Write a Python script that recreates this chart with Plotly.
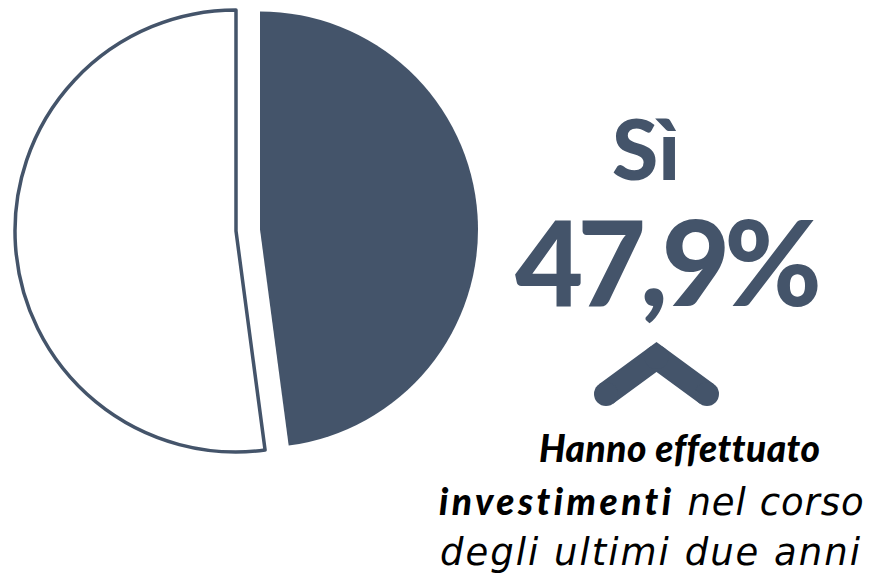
import plotly.graph_objects as go

# Survey answer shares (percent)
labels = ["Sì", "No"]
values = [47.9, 52.1]

headline = "Sì"
pct_label = "47,9%"
# caption lines as (bold part, regular part)
caption_lines = [
    ("Hanno effettuato", ""),
    ("investimenti", " nel corso"),
    ("", "degli ultimi due anni"),
]

W, H = 879, 577
DARK = "#44546A"
CLEAR = "rgba(0,0,0,0)"
BIG_FONT = "Century Gothic, Lato, sans-serif"


def domain(cx, cy, r):
    """Pie domain (paper fractions) for a circle given in pixels."""
    return dict(x=[(cx - r) / W, (cx + r) / W], y=[1 - (cy + r) / H, 1 - (cy - r) / H])


pie_common = dict(
    labels=labels,
    values=values,
    sort=False,
    direction="clockwise",
    rotation=0,
    textinfo="none",
    hoverinfo="skip",
    showlegend=False,
)

fig = go.Figure()

# "No" share: white slice with dark outline
fig.add_trace(go.Pie(
    **pie_common,
    domain=domain(236, 231, 221),
    marker=dict(colors=[CLEAR, "white"], line=dict(color=[CLEAR, DARK], width=3.5)),
))

# "Sì" share: solid slice, exploded to the right
fig.add_trace(go.Pie(
    **pie_common,
    domain=domain(260, 229.5, 218),
    marker=dict(colors=[DARK, CLEAR], line=dict(color=[CLEAR, CLEAR], width=0)),
))

# Up chevron icon (pixel-space axes)
chev_x = [606, 656.5, 707]
chev_y = [394, 357, 394]
fig.add_trace(go.Scatter(
    x=chev_x, y=chev_y, mode="lines+markers",
    line=dict(color=DARK, width=24),
    marker=dict(color=DARK, size=24),
    hoverinfo="skip", showlegend=False,
))

annotations = [
    dict(x=646, y=147, text=headline,
         font=dict(family=BIG_FONT, size=84, color=DARK, weight=900)),
    dict(x=666, y=260, text=f'<span style="letter-spacing:-6px">{pct_label}</span>',
         font=dict(family=BIG_FONT, size=118, color=DARK, weight=900)),
]


def caption_html(bold, regular, bold_spacing, reg_spacing):
    parts = []
    if bold:
        parts.append(f'<span style="font-family:Lato;font-weight:900;'
                     f'letter-spacing:{bold_spacing}px">{bold}</span>')
    if regular:
        parts.append(f'<span style="font-family:DejaVu Sans;font-weight:normal;'
                     f'letter-spacing:{reg_spacing}px">{regular}</span>')
    return "<i>" + "".join(parts) + "</i>"


caption_pos = [(679, 447), (652, 501), (651, 552)]
caption_spacing = [(0.5, 0), (3.5, 1), (0, 2)]
for (cx, cy), (bold, regular), (bs, rs) in zip(caption_pos, caption_lines, caption_spacing):
    annotations.append(dict(x=cx, y=cy, text=caption_html(bold, regular, bs, rs),
                            font=dict(family="Lato", size=37, color="black")))

for a in annotations:
    a.update(xref="x", yref="y", xanchor="center", yanchor="middle", showarrow=False)

fig.update_layout(
    width=W, height=H,
    margin=dict(l=0, r=0, t=0, b=0),
    paper_bgcolor="white", plot_bgcolor="rgba(0,0,0,0)",
    xaxis=dict(range=[0, W], visible=False, fixedrange=True),
    yaxis=dict(range=[H, 0], visible=False, fixedrange=True),
    annotations=annotations,
)

fig.write_html("out.html")
